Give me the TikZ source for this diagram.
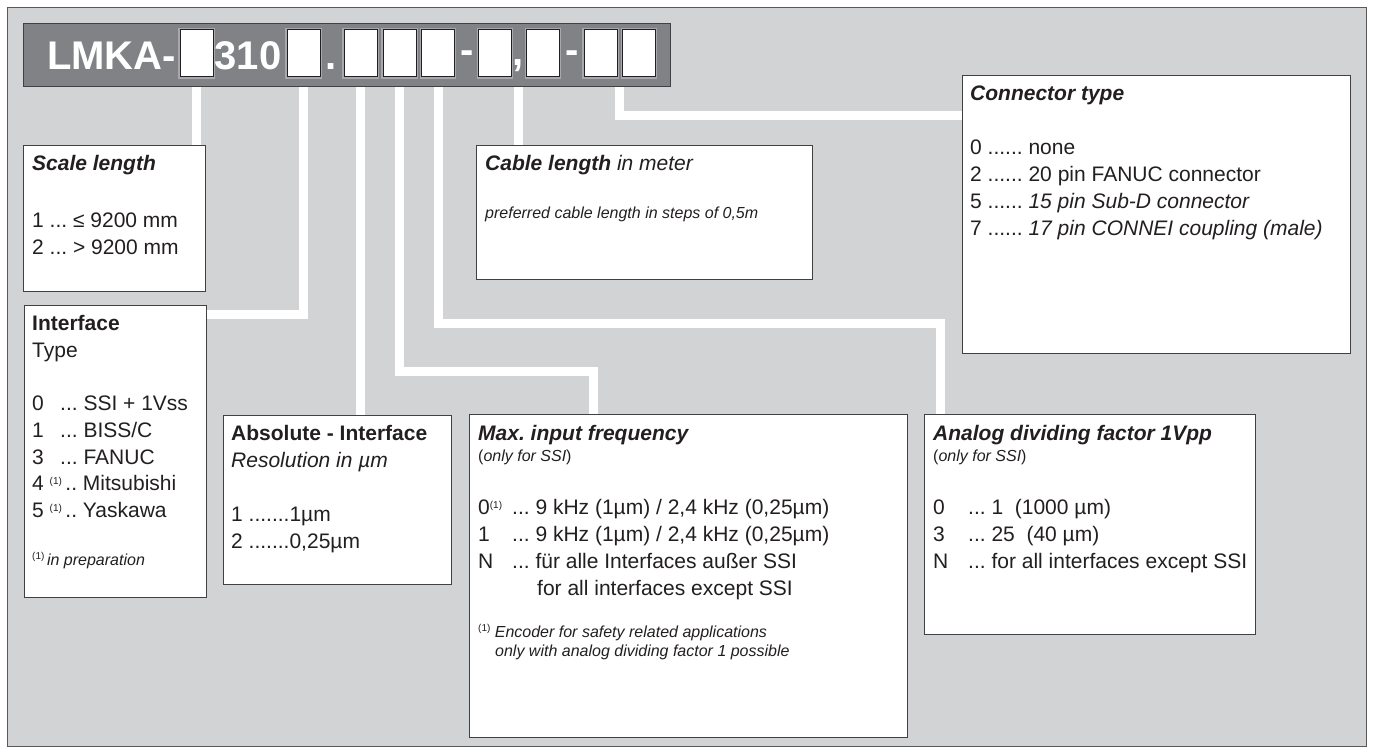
\documentclass[tikz,border=0pt]{standalone}
\usepackage{fontspec}
\setmainfont{Liberation Sans}
\usetikzlibrary{calc}
\frenchspacing
\newcommand\cardfont{\fontsize{21}{26.8}\selectfont}
\newcommand\notefont{\fontsize{16}{19}\selectfont}
\newcommand\fnref{{\fontsize{10}{10}\selectfont\raisebox{6pt}{(1)}}}
\begin{document}
\begin{tikzpicture}[x=1pt,y=-1pt]
  \definecolor{panelbg}{HTML}{D1D3D4}
  \definecolor{panelrim}{HTML}{58595B}
  \definecolor{barbg}{HTML}{808285}
  \definecolor{barrim}{HTML}{414042}
  \definecolor{slotrim}{HTML}{A7A9AC}
  \definecolor{ink}{HTML}{231F20}
  \tikzstyle{card}=[draw=barrim, line width=1.1pt, fill=white, anchor=north west, inner sep=0pt]
  \tikzstyle{slot}=[draw=ink, line width=1pt, fill=white, minimum width=33pt, minimum height=47pt, inner sep=0pt, preaction={draw=slotrim, line width=3.6pt}]
  \tikzstyle{hdr}=[text=white, font=\fontsize{40}{40}\selectfont\bfseries, inner sep=0pt, anchor=base]
  \tikzstyle{wire}=[draw=white, line width=9pt, line join=miter]
  \tikzstyle{txt}=[anchor=north west, inner sep=0pt, align=left, text=ink, font=\cardfont]
  \tikzstyle{note}=[anchor=north west, inner sep=0pt, align=left, text=ink, font=\notefont]

  \useasboundingbox (0,0) rectangle (1373,751);

  % grey panel with the dark type-code bar on top
  \node[draw=panelrim, line width=1.4pt, fill=panelbg, minimum width=1359pt, minimum height=739pt, anchor=north west, inner sep=0pt] (panel) at (7,7) {};
  \node[draw=barrim, line width=1.2pt, fill=barbg, minimum width=647pt, minimum height=63pt, anchor=north west, inner sep=0pt] (bar) at (23,23) {};

  % code characters and the empty slots
  \node[hdr, anchor=base west] (lmka) at (47,70) {LMKA-};
  \node[slot] (s1) at (196.5,53.5) {};
  \node[hdr] (n310) at (248,70) {310};
  \node[slot] (s2) at (303.5,53.5) {};
  \node[hdr] (dot) at (331,70) {.};
  \node[slot] (s3) at (360.5,53.5) {};
  \node[slot] (s4) at (399.5,53.5) {};
  \node[slot] (s5) at (438,53.5) {};
  \node[hdr] (dash1) at (467.5,64) {-};
  \node[slot] (s6) at (495,53.5) {};
  \node[hdr] (comma) at (518.5,66) {,};
  \node[slot] (s7) at (543,53.5) {};
  \node[hdr] (dash2) at (572.5,64) {-};
  \node[slot] (s8) at (600.5,53.5) {};
  \node[slot] (s9) at (639,53.5) {};

  % white cards, sizes taken from the sheet
  \node[card, minimum width=182pt, minimum height=146pt] (scale) at (23,145) {};
  \node[card, minimum width=182pt, minimum height=292pt] (iface) at (24,305) {};
  \node[card, minimum width=228pt, minimum height=169pt] (absint) at (223,415) {};
  \node[card, minimum width=336pt, minimum height=134pt] (cable) at (476,145) {};
  \node[card, minimum width=438pt, minimum height=323pt] (maxf) at (469,414) {};
  \node[card, minimum width=331pt, minimum height=220pt] (analog) at (924,414) {};
  \node[card, minimum width=388pt, minimum height=278pt] (contype) at (962,75) {};

  % white leader lines from the slots down to the cards
  \draw[wire] (s1 |- bar.south) -- (s1 |- scale.north);
  \draw[wire] (s2 |- bar.south) |- ([yshift=-9pt]iface.north east);
  \draw[wire] (s3 |- bar.south) -- (s3 |- absint.north);
  \draw[wire] (s4 |- bar.south) -- ++(0,284) -| ([xshift=124.5pt]maxf.north west);
  \draw[wire] (s5 |- bar.south) -- ++(0,236.5) -| ([xshift=16.5pt]analog.north west);
  \draw[wire] (comma |- bar.south) -- (comma |- cable.north);
  \coordinate (tap) at ($(s8)!0.5!(s9)$);
  \draw[wire] (tap |- bar.south) |- ([yshift=-41pt]contype.north west);

  % card texts
  \node[txt] (scaletxt) at (32,151.7) {\strut\textbf{\textit{Scale length}}\\[30.2pt]1 ... ≤ 9200 mm\\2 ... > 9200 mm};

  \node[txt] (ifacetxt) at (32,311.7) {\strut\textbf{Interface}\\Type\\[26.2pt]\makebox[28pt][l]{0}... SSI + 1Vss\\\makebox[28pt][l]{1}... BISS/C\\\makebox[28pt][l]{3}... FANUC\\4 \fnref\,.. Mitsubishi\\5 \fnref\,.. Yaskawa};
  \node[note] (ifacenote) at (32,552.4) {\strut\fnref\,\textit{in preparation}};

  \node[txt] (abstxt) at (231,421.7) {\strut\textbf{Absolute - Interface}\\\textit{Resolution in µm}\\[27.2pt]1 .......1µm\\2 .......0,25µm};

  \node[txt] (cabletxt) at (485,151.7) {\strut\textbf{\textit{Cable length}} \textit{in meter}};
  \node[note] (cablenote) at (485,205.4) {\strut\textit{preferred cable length in steps of 0,5m}};

  \node[txt] (maxtxt) at (478,421.7) {\strut\textbf{\textit{Max. input frequency}}};
  \node[note] (maxsub) at (478,448.4) {\strut(\textit{only for SSI})};
  \node[txt] (maxitems) at (478,495.7) {\strut\makebox[34pt][l]{0\fnref}... 9 kHz (1µm) / 2,4 kHz (0,25µm)\\\makebox[34pt][l]{1}... 9 kHz (1µm) / 2,4 kHz (0,25µm)\\\makebox[34pt][l]{N}... für alle Interfaces außer SSI\\\hspace*{59pt}for all interfaces except SSI};
  \node[note] (maxnote) at (478,624.4) {\strut\fnref\ \textit{Encoder for safety related applications}\\\hspace*{17pt}\textit{only with analog dividing factor 1 possible}};

  \node[txt] (antxt) at (933,421.7) {\strut\textbf{\textit{Analog dividing factor 1Vpp}}};
  \node[note] (ansub) at (933,448.4) {\strut(\textit{only for SSI})};
  \node[txt] (anitems) at (933,495.7) {\strut\makebox[35pt][l]{0}... 1\ \ (1000 µm)\\\makebox[35pt][l]{3}... 25\ \ (40 µm)\\\makebox[35pt][l]{N}... for all interfaces except SSI};

  \node[txt] (cttxt) at (970,81.7) {\strut\textbf{\textit{Connector type}}\\[27.2pt]0 ...... none\\2 ...... 20 pin FANUC connector\\5 ...... \textit{15 pin Sub-D connector}\\7 ...... \textit{17 pin CONNEI coupling (male)}};
\end{tikzpicture}
\end{document}
